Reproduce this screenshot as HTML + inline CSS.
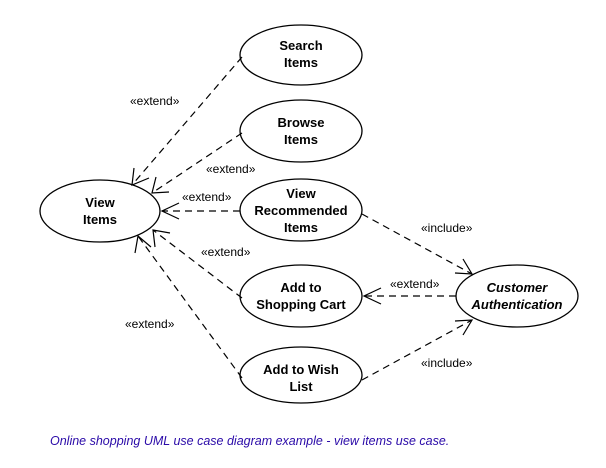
<!DOCTYPE html>
<html><head><style>
body{margin:0;background:#fff;width:606px;height:468px;overflow:hidden}
svg{display:block}
.n{font:bold 13px "Liberation Sans",sans-serif;fill:#000;text-anchor:middle}
.l{font:12px "Liberation Sans",sans-serif;fill:#000}
</style></head><body>
<svg width="606" height="468" viewBox="0 0 606 468">
<text x="270" y="-4" style="font:bold 13px 'Liberation Sans',sans-serif;fill:#e07000">shopping</text>
<g fill="#fff" stroke="#000" stroke-width="1.3">
<ellipse cx="301" cy="55" rx="61" ry="30"/>
<ellipse cx="301" cy="131" rx="61" ry="31"/>
<ellipse cx="301" cy="210" rx="61" ry="31"/>
<ellipse cx="301" cy="296" rx="61" ry="31"/>
<ellipse cx="301" cy="375" rx="61" ry="28"/>
<ellipse cx="100" cy="211" rx="60" ry="31"/>
<ellipse cx="517" cy="296" rx="61" ry="31"/>
</g>
<g stroke="#000" stroke-width="1.2" fill="none" stroke-dasharray="7,5">
<line x1="242" y1="57" x2="132" y2="185"/>
<line x1="242" y1="133" x2="152" y2="193"/>
<line x1="240" y1="211" x2="162" y2="211"/>
<line x1="242" y1="298" x2="153" y2="230"/>
<line x1="242" y1="378" x2="138" y2="236"/>
<line x1="456" y1="296" x2="364" y2="296"/>
<line x1="362" y1="214" x2="472" y2="274"/>
<line x1="362" y1="380" x2="472" y2="320"/>
</g>
<g stroke="#000" stroke-width="1.2" fill="none">
<polyline points="134,168 132,185 149,178"/>
<polyline points="156,177 152,193 169,192"/>
<polyline points="179,203 162,211 179,219"/>
<polyline points="155,247 153,230 170,233"/>
<polyline points="135,253 138,236 151,247"/>
<polyline points="381,288 364,296 381,304"/>
<polyline points="455,273 472,274 463,259"/>
<polyline points="463,335 472,320 455,321"/>
</g>
<text class="n" x="301" y="50">Search</text><text class="n" x="301" y="67">Items</text>
<text class="n" x="301" y="127">Browse</text><text class="n" x="301" y="144">Items</text>
<text class="n" x="301" y="198">View</text><text class="n" x="301" y="215">Recommended</text><text class="n" x="301" y="232">Items</text>
<text class="n" x="301" y="292">Add to</text><text class="n" x="301" y="309">Shopping Cart</text>
<text class="n" x="301" y="374">Add to Wish</text><text class="n" x="301" y="391">List</text>
<text class="n" x="100" y="207">View</text><text class="n" x="100" y="224">Items</text>
<text class="n" x="517" y="292" style="font-style:italic">Customer</text><text class="n" x="517" y="309" style="font-style:italic">Authentication</text>
<text class="l" x="130" y="105">«extend»</text>
<text class="l" x="206" y="173">«extend»</text>
<text class="l" x="182" y="201">«extend»</text>
<text class="l" x="201" y="256">«extend»</text>
<text class="l" x="125" y="328">«extend»</text>
<text class="l" x="390" y="288">«extend»</text>
<text class="l" x="421" y="232">«include»</text>
<text class="l" x="421" y="367">«include»</text>
<text x="50" y="445" style="font:italic 12.5px 'Liberation Sans',sans-serif;fill:#2a0aa8">Online shopping UML use case diagram example - view items use case.</text>
</svg>
</body></html>
